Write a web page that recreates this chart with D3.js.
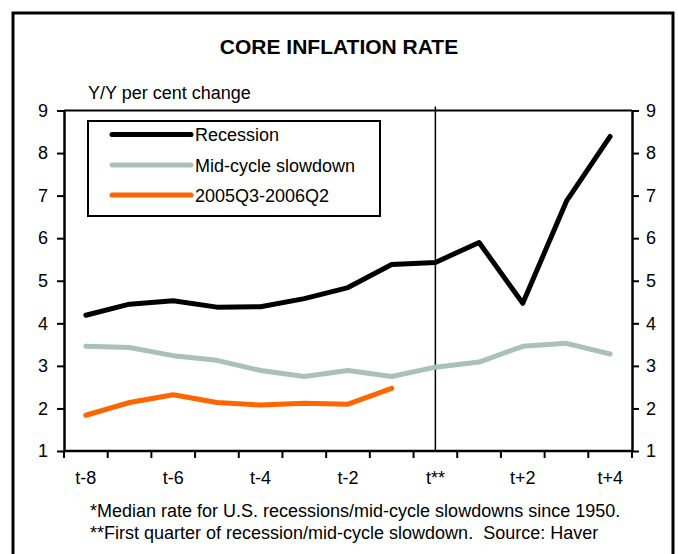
<!DOCTYPE html>
<html>
<head>
<meta charset="utf-8">
<script src="https://cdn.jsdelivr.net/npm/d3@7"></script>
<style>
  body { margin: 0; background: #fff; }
  text { font-family: "Liberation Sans", Arial, sans-serif; fill: #000; }
</style>
</head>
<body>
<div id="chart"></div>
<script>
var quarters = ["t-8","t-7","t-6","t-5","t-4","t-3","t-2","t-1","t","t+1","t+2","t+3","t+4"];
var quarterLabels = ["t-8","","t-6","","t-4","","t-2","","t**","","t+2","","t+4"];
var recession = [4.19, 4.45, 4.53, 4.38, 4.39, 4.58, 4.84, 5.38, 5.43, 5.90, 4.47, 6.87, 8.39];
var midCycle = [3.46, 3.43, 3.24, 3.13, 2.89, 2.75, 2.89, 2.75, 2.97, 3.09, 3.46, 3.53, 3.28];
var recent = [1.84, 2.14, 2.32, 2.14, 2.08, 2.12, 2.10, 2.47];
var yTicks = [1, 2, 3, 4, 5, 6, 7, 8, 9];
var seriesNames = ["Recession", "Mid-cycle slowdown", "2005Q3-2006Q2"];
var seriesColors = ["#000000", "#a9c1b6", "#ff6600"];

var width = 678, height = 554;
var svg = d3.select("#chart").append("svg")
    .attr("width", width)
    .attr("height", height);

// outer frame
svg.append("rect")
    .attr("x", 13).attr("y", 13)
    .attr("width", 660).attr("height", 570)
    .attr("fill", "none")
    .attr("stroke", "#000")
    .attr("stroke-width", 3);

svg.append("text")
    .attr("x", 339).attr("y", 54)
    .attr("text-anchor", "middle")
    .style("font-size", "21px")
    .style("font-weight", "bold")
    .text("CORE INFLATION RATE");

svg.append("text")
    .attr("x", 88).attr("y", 99)
    .style("font-size", "18px")
    .text("Y/Y per cent change");

var plotL = 64, plotR = 632, plotT = 110.5, plotB = 451;

var x = d3.scaleBand().domain(quarters).range([plotL, plotR]).padding(0);
var y = d3.scaleLinear().domain([1, 9]).range([plotB, plotT]);
function cx(i){ return x(quarters[i]) + x.bandwidth()/2; }

// top frame line
svg.append("line")
    .attr("x1", plotL).attr("x2", plotR)
    .attr("y1", plotT).attr("y2", plotT)
    .attr("stroke", "#000").attr("stroke-width", 2);

// left & right axes
var yAxisL = svg.append("g")
    .attr("transform", "translate(" + plotL + ",0)")
    .call(d3.axisLeft(y).tickValues(yTicks).tickSize(7).tickSizeOuter(0).tickPadding(9));
var yAxisR = svg.append("g")
    .attr("transform", "translate(" + plotR + ",0)")
    .call(d3.axisRight(y).tickValues(yTicks).tickSize(7).tickSizeOuter(0).tickPadding(7));
[yAxisL, yAxisR].forEach(function(g){
    g.select(".domain").attr("stroke-width", 2.5);
    g.selectAll(".tick line").attr("stroke-width", 2);
    g.selectAll(".tick text")
        .style("font-size", "18px")
        .style("font-family", "'Liberation Sans', Arial, sans-serif");
});

// bottom axis: ticks on category boundaries, labels centred
var xAxis = svg.append("g");
xAxis.append("line")
    .attr("x1", plotL).attr("x2", plotR)
    .attr("y1", plotB).attr("y2", plotB)
    .attr("stroke", "#000").attr("stroke-width", 2.5);
var bounds = quarters.map(function(q){ return x(q); }).concat([plotR]);
xAxis.selectAll("line.xt")
    .data(bounds)
    .enter().append("line")
    .attr("class", "xt")
    .attr("x1", function(d){ return d; }).attr("x2", function(d){ return d; })
    .attr("y1", plotB).attr("y2", plotB + 7)
    .attr("stroke", "#000").attr("stroke-width", 2);
xAxis.selectAll("text")
    .data(quarterLabels)
    .enter().append("text")
    .attr("x", function(d, i){ return cx(i); })
    .attr("y", plotB + 33)
    .attr("text-anchor", "middle")
    .style("font-size", "18px")
    .text(function(d){ return d; });

// marker line at t**
svg.append("line")
    .attr("x1", cx(8)).attr("x2", cx(8))
    .attr("y1", plotT - 4).attr("y2", plotB)
    .attr("stroke", "#000").attr("stroke-width", 1.5);

var line = d3.line()
    .x(function(d, i){ return cx(i); })
    .y(function(d){ return y(d); });

[midCycle, recent, recession].forEach(function(s){
    var idx = s === recession ? 0 : (s === midCycle ? 1 : 2);
    svg.append("path")
        .datum(s)
        .attr("d", line)
        .attr("fill", "none")
        .attr("stroke", seriesColors[idx])
        .attr("stroke-width", 5)
        .attr("stroke-linejoin", "round")
        .attr("stroke-linecap", "round");
});

// legend
svg.append("rect")
    .attr("x", 88).attr("y", 121)
    .attr("width", 292).attr("height", 95)
    .attr("fill", "#fff")
    .attr("stroke", "#000")
    .attr("stroke-width", 2);
var legendRows = [134.5, 165, 195];
for(var i in seriesNames){
    svg.append("line")
        .attr("x1", 112).attr("x2", 191)
        .attr("y1", legendRows[i]).attr("y2", legendRows[i])
        .attr("stroke", seriesColors[i])
        .attr("stroke-width", 5)
        .attr("stroke-linecap", "round");
    svg.append("text")
        .attr("x", 195).attr("y", legendRows[i] + 6.5)
        .style("font-size", "18px")
        .text(seriesNames[i]);
}

// footnotes
svg.append("text")
    .attr("x", 90).attr("y", 517)
    .style("font-size", "18px")
    .text("*Median rate for U.S. recessions/mid-cycle slowdowns since 1950.");
svg.append("text")
    .attr("x", 90).attr("y", 539)
    .style("font-size", "18px")
    .style("white-space", "pre")
    .text("**First quarter of recession/mid-cycle slowdown.  Source: Haver");
</script>
</body>
</html>
